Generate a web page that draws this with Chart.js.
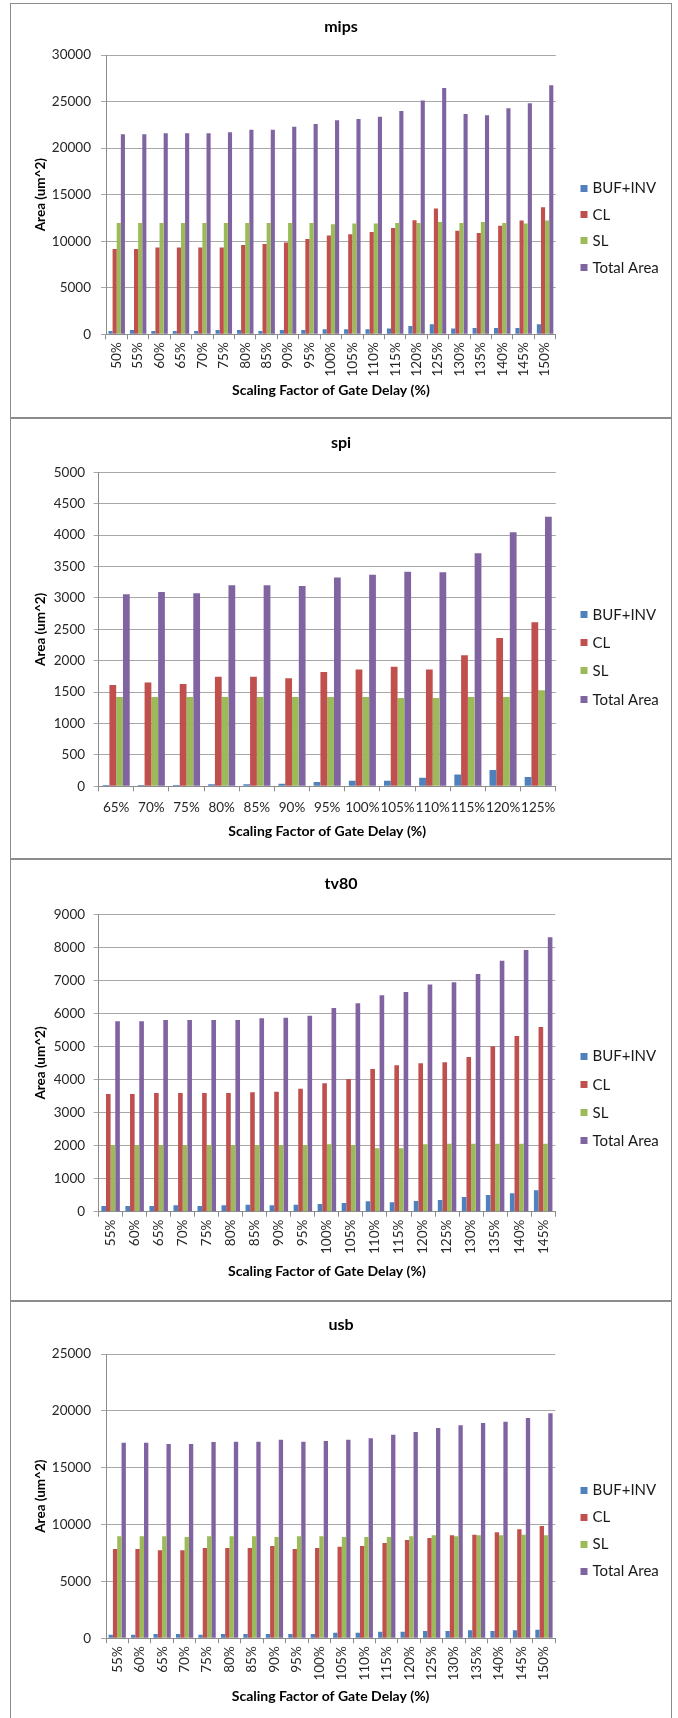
<!DOCTYPE html>
<html>
<head>
<meta charset="utf-8">
<script src="https://cdn.jsdelivr.net/npm/chart.js@4.4.1/dist/chart.umd.min.js"></script>
<style>
  html, body { margin: 0; padding: 0; background: #fff; }
  body { width: 678px; height: 1718px; position: relative; overflow: hidden; font-family: Lato, sans-serif; }
  .panel { position: absolute; left: 10px; width: 660px; border: 1px solid #8c8c8c; }
  canvas { position: absolute; left: 0; }
</style>
</head>
<body>
<div class="panel" style="top:3px;height:413px"></div>
<div class="panel" style="top:418px;height:439px"></div>
<div class="panel" style="top:859px;height:440px"></div>
<div class="panel" style="top:1301px;height:440px"></div>
<canvas id="mips" width="678" height="418" style="top:0px"></canvas>
<canvas id="spi" width="678" height="441" style="top:418px"></canvas>
<canvas id="tv80" width="678" height="442" style="top:859px"></canvas>
<canvas id="usb" width="678" height="417" style="top:1301px"></canvas>
<script>
// Series shared by all four designs
const seriesNames = ['BUF+INV', 'CL', 'SL', 'Total Area'];
const seriesColors = ['#4F81BD', '#C0504D', '#9BBB59', '#8064A2'];
const xAxisTitle = 'Scaling Factor of Gate Delay (%)';
const yAxisTitle = 'Area (um^2)';

// mips
const mipsLabels = ['50%','55%','60%','65%','70%','75%','80%','85%','90%','95%','100%','105%','110%','115%','120%','125%','130%','135%','140%','145%','150%'];
const mipsBufInv = [358,465,360,360,360,465,465,360,465,465,537,537,537,610,895,1074,610,680,680,680,1074];
const mipsCL = [9170,9170,9310,9310,9310,9310,9600,9700,9850,10240,10600,10740,10990,11420,12240,13500,11130,10880,11670,12210,13640];
const mipsSL = [11960,11960,11960,11960,11960,11960,11960,11960,11960,11960,11820,11890,11890,11960,11960,12070,11960,12070,11960,11890,12210];
const mipsTotal = [21480,21480,21590,21590,21590,21700,21980,21980,22300,22590,22990,23130,23380,23990,25100,26460,23670,23520,24280,24810,26750];
const mipsYMax = 30000, mipsYStep = 5000;

// spi
const spiLabels = ['65%','70%','75%','80%','85%','90%','95%','100%','105%','110%','115%','120%','125%'];
const spiBufInv = [21,21,21,32,32,42,69,90,90,138,186,260,149];
const spiCL = [1614,1651,1630,1746,1746,1720,1820,1858,1905,1858,2086,2362,2611];
const spiSL = [1422,1422,1422,1422,1422,1422,1422,1422,1407,1407,1422,1422,1529];
const spiTotal = [3057,3094,3073,3200,3200,3190,3323,3370,3418,3408,3710,4045,4294];
const spiYMax = 5000, spiYStep = 500;

// tv80
const tv80Labels = ['55%','60%','65%','70%','75%','80%','85%','90%','95%','100%','105%','110%','115%','120%','125%','130%','135%','140%','145%'];
const tv80BufInv = [172,172,172,192,172,192,212,192,212,232,262,313,283,323,353,444,505,555,646];
const tv80CL = [3562,3562,3592,3592,3592,3592,3613,3633,3724,3885,4016,4319,4430,4490,4521,4682,5005,5318,5590];
const tv80SL = [2018,2018,2018,2018,2018,2018,2018,2018,2018,2038,2018,1917,1917,2038,2058,2058,2058,2058,2058];
const tv80Total = [5760,5760,5802,5802,5802,5802,5853,5873,5933,6165,6307,6549,6650,6872,6942,7195,7598,7921,8305];
const tv80YMax = 9000, tv80YStep = 1000;

// usb
const usbLabels = ['55%','60%','65%','70%','75%','80%','85%','90%','95%','100%','105%','110%','115%','120%','125%','130%','135%','140%','145%','150%'];
const usbBufInv = [322,322,381,381,322,381,381,381,381,381,498,498,586,586,645,645,703,645,703,762];
const usbCL = [7855,7855,7737,7737,7943,7943,7943,8118,7855,7943,8060,8118,8382,8646,8822,9056,9115,9320,9584,9877];
const usbSL = [8968,8968,8968,8910,8968,8968,8968,8910,8968,8968,8910,8910,8910,8968,9056,8968,9056,9056,9115,9056];
const usbTotal = [17204,17204,17087,17087,17263,17290,17290,17468,17290,17350,17468,17585,17907,18142,18494,18728,18933,19050,19373,19783];
const usbYMax = 25000, usbYStep = 5000;

const FONT = 'Lato, "Open Sans", sans-serif';

// Chart title and the legend column on the right
const panelDecor = {
  id: 'panelDecor',
  afterDraw(chart, args, o) {
    const ctx = chart.ctx;
    ctx.save();
    ctx.fillStyle = '#000';
    ctx.font = 'bold 16px ' + FONT;
    ctx.textAlign = 'center';
    ctx.textBaseline = 'middle';
    ctx.fillText(o.text, o.titleX, o.titleY);
    ctx.font = '15px ' + FONT;
    ctx.textAlign = 'left';
    chart.data.datasets.forEach((ds, i) => {
      const y = o.legendY + i * o.legendStep;
      ctx.fillStyle = ds.backgroundColor;
      ctx.fillRect(o.legendX, Math.round(y - 3.5), 7, 7);
      ctx.fillStyle = '#1a1a1a';
      ctx.fillText(ds.label, o.legendX + 12, y + 0.5);
    });
    ctx.restore();
  }
};

function makeChart(id, title, labels, series, yMax, yStep, g) {
  const canvas = document.getElementById(id);
  const H = canvas.height;
  return new Chart(canvas, {
    type: 'bar',
    data: {
      labels: labels,
      datasets: series.map((vals, i) => ({
        label: seriesNames[i],
        data: vals,
        backgroundColor: seriesColors[i],
        borderWidth: 0,
        categoryPercentage: 0.77,
        barPercentage: 1.0
      }))
    },
    options: {
      responsive: false,
      animation: false,
      devicePixelRatio: 1,
      layout: { padding: { left: 0, top: g.top, right: 678 - g.right, bottom: H - g.bottom - g.xH } },
      plugins: {
        legend: { display: false },
        tooltip: { enabled: false },
        panelDecor: { text: title, titleX: 341, titleY: g.titleY, legendX: 580.5, legendY: g.legendY, legendStep: g.legendStep }
      },
      scales: {
        x: {
          grid: { display: true, drawOnChartArea: false, drawTicks: true, tickLength: 5, color: '#8c8c8c', offset: true },
          border: { display: true, color: '#8c8c8c' },
          ticks: { autoSkip: false, maxRotation: g.rot, minRotation: g.rot, padding: g.xPad, color: '#262626', font: { family: FONT, size: 13.5 } },
          title: { display: true, text: xAxisTitle, color: '#000', font: { family: FONT, size: 14, weight: 'bold' }, padding: { top: 0, bottom: g.xTitlePad } },
          afterFit(s) { s.height = g.xH; }
        },
        y: {
          min: 0, max: yMax,
          grid: { color: '#a8a8a8', tickLength: 5 },
          border: { display: true, color: '#8c8c8c' },
          ticks: { stepSize: yStep, padding: g.yPad, color: '#262626', font: { family: FONT, size: 13.5 }, callback: v => String(v) },
          title: { display: true, text: yAxisTitle, color: '#000', font: { family: FONT, size: 13.5, weight: 'bold' }, padding: { top: 32.4, bottom: 0 } },
          afterFit(s) { s.width = g.left; }
        }
      }
    },
    plugins: [panelDecor]
  });
}

makeChart('mips', 'mips', mipsLabels, [mipsBufInv, mipsCL, mipsSL, mipsTotal], mipsYMax, mipsYStep,
  { left: 106, right: 555.8, top: 55, bottom: 334.3, xH: 70, xTitlePad: 5.2, rot: 90, xPad: 3, yPad: 10,
    titleY: 27, legendY: 188, legendStep: 26.4 });

makeChart('spi', 'spi', spiLabels, [spiBufInv, spiCL, spiSL, spiTotal], spiYMax, spiYStep,
  { left: 98.6, right: 555.8, top: 54.3, bottom: 368.3, xH: 60, xTitlePad: 6.9, rot: 0, xPad: 8.3, yPad: 8.5,
    titleY: 24.7, legendY: 196.3, legendStep: 28.3 });

makeChart('tv80', 'tv80', tv80Labels, [tv80BufInv, tv80CL, tv80SL, tv80Total], tv80YMax, tv80YStep,
  { left: 98.6, right: 555.2, top: 55.3, bottom: 352.7, xH: 75, xTitlePad: 6.6, rot: 90, xPad: 3, yPad: 8.5,
    titleY: 25.3, legendY: 197, legendStep: 28.3 });

makeChart('usb', 'usb', usbLabels, [usbBufInv, usbCL, usbSL, usbTotal], usbYMax, usbYStep,
  { left: 106, right: 555.2, top: 53, bottom: 337.3, xH: 72, xTitlePad: 5.2, rot: 90, xPad: 3, yPad: 10,
    titleY: 24, legendY: 189, legendStep: 27 });
</script>
</body>
</html>
